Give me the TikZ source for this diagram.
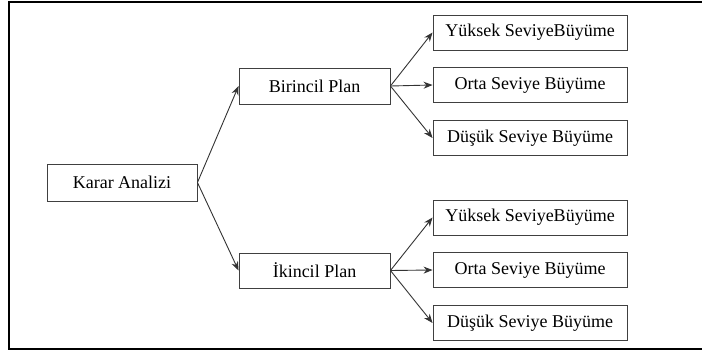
\documentclass[tikz,border=0pt]{standalone}
\usepackage{fontspec}
\setmainfont{Liberation Serif}
\usetikzlibrary{arrows.meta}

\begin{document}
\begin{tikzpicture}[x=1pt, y=-1pt, >={Stealth[length=9pt, width=7pt]},
  box/.style={draw=black!75, line width=0.9pt, minimum height=35pt, inner sep=0pt,
    font=\fontsize{18}{20}\selectfont},
  arr/.style={->, draw=black!80, line width=0.9pt}]
\useasboundingbox (0,0) rectangle (702,351);
% outer frame, its right side lies past the page edge
\draw[line width=2pt] (712,2) -- (9,2) -- (9,349) -- (712,349);
% root and the two plans
\node[box, minimum width=150pt, minimum height=37pt] (karar) at (122,182.5) {Karar Analizi};
\node[box, minimum width=151pt, minimum height=36pt] (birincil) at (314.5,86) {Birincil Plan};
\node[box, minimum width=151pt] (ikincil) at (314.5,270.5) {İkincil Plan};
\draw[arr] (karar.east) -- (birincil.west);
\draw[arr] (karar.east) -- (ikincil.west);
% the three growth levels of each plan
\foreach \plan/\dy in {birincil/0, ikincil/185} {
  \node[box, minimum width=194pt] (\plan-yuksek) at (530,32.5+\dy) {Yüksek SeviyeBüyüme};
  \node[box, minimum width=194pt] (\plan-orta) at (530,85+\dy) {Orta Seviye Büyüme};
  \node[box, minimum width=194pt] (\plan-dusuk) at (530,138+\dy) {Düşük Seviye Büyüme};
  \draw[arr] (\plan.east) -- (\plan-yuksek.west);
  \draw[arr] (\plan.east) -- (\plan-orta.west);
  \draw[arr] (\plan.east) -- (\plan-dusuk.west);
}
\end{tikzpicture}
\end{document}
